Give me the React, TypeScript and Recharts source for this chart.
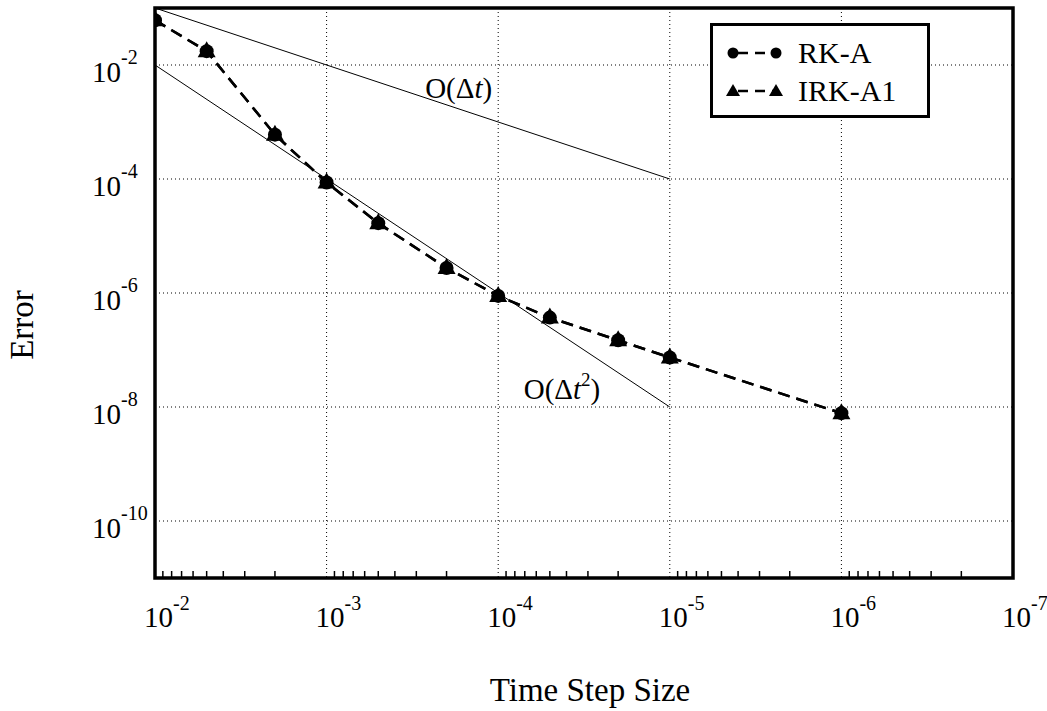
import {
  ComposedChart,
  Line,
  XAxis,
  YAxis,
  CartesianGrid,
  ReferenceArea,
  ReferenceDot,
} from "recharts";

// step sizes (x) and errors
const stepSizes = [1e-2, 5e-3, 2e-3, 1e-3, 5e-4, 2e-4, 1e-4, 5e-5, 2e-5, 1e-5, 1e-6];
const rkAErrors = [6.1e-2, 1.75e-2, 6e-4, 8.7e-5, 1.68e-5, 2.75e-6, 8.9e-7, 3.7e-7, 1.48e-7, 7.4e-8, 7.8e-9];
const irkA1Errors = [6.1e-2, 1.75e-2, 6e-4, 8.7e-5, 1.68e-5, 2.75e-6, 8.9e-7, 3.7e-7, 1.48e-7, 7.4e-8, 7.8e-9];

// slope guides
const guideSteps = [1e-2, 1e-5];
const orderOneErrors = [1e-1, 1e-4];
const orderTwoErrors = [1e-2, 1e-8];

// axes
const xDecades = [1e-2, 1e-3, 1e-4, 1e-5, 1e-6, 1e-7];
const xDecadeLabels = ["-2", "-3", "-4", "-5", "-6", "-7"];
const minorMultipliers = [2, 3, 4, 5, 6, 7, 8, 9];
const yDecades = [1e-2, 1e-4, 1e-6, 1e-8, 1e-10];
const yDecadeLabels = ["-2", "-4", "-6", "-8", "-10"];

const FONT = '"Liberation Serif", "DejaVu Serif", serif';
const DASH = "12 7";

const rkAData = stepSizes.map((dt, i) => ({ dt, err: rkAErrors[i] }));
const irkA1Data = stepSizes.map((dt, i) => ({ dt, err: irkA1Errors[i] }));
const orderOneData = guideSteps.map((dt, i) => ({ dt, err: orderOneErrors[i] }));
const orderTwoData = guideSteps.map((dt, i) => ({ dt, err: orderTwoErrors[i] }));

const minorTicks = xDecades
  .slice(1)
  .flatMap((d) => minorMultipliers.map((m) => m * d));
const xTicks = [...xDecades, ...minorTicks];

function XTick(props: any) {
  const { x, y, payload } = props;
  const idx = xDecades.findIndex((d) => Math.abs(d - payload.value) / d < 1e-6);
  if (idx < 0) {
    return <line x1={x} x2={x} y1={y} y2={y - 7} stroke="#000" strokeWidth={1.5} />;
  }
  return (
    <text x={x - 11} y={y + 49} fontSize={29} fontFamily={FONT} fill="#000">
      <tspan>10</tspan>
      <tspan dy={-17} fontSize={20}>
        {xDecadeLabels[idx]}
      </tspan>
    </text>
  );
}

function YTick(props: any) {
  const { x, y, payload } = props;
  const idx = yDecades.findIndex((d) => Math.abs(d - payload.value) / d < 1e-6);
  if (idx < 0) return null;
  return (
    <text x={x - 63} y={y + 17} fontSize={29} fontFamily={FONT} fill="#000">
      <tspan>10</tspan>
      <tspan dy={-18} fontSize={20}>
        {yDecadeLabels[idx]}
      </tspan>
    </text>
  );
}

function Triangle(props: any) {
  const { cx, cy } = props;
  if (cx == null || cy == null) return null;
  return (
    <polygon
      points={`${cx},${cy - 10} ${cx - 9},${cy + 6} ${cx + 9},${cy + 6}`}
      fill="#000"
    />
  );
}

function LegendBox() {
  return (
    <div
      style={{
        position: "absolute",
        left: 710,
        top: 23,
        width: 220,
        height: 95,
        border: "3px solid #000",
        boxSizing: "border-box",
        background: "#fff",
        fontFamily: FONT,
        fontSize: 30,
      }}
    >
      {[
        { name: "RK-A", mark: "circle" },
        { name: "IRK-A1", mark: "triangle" },
      ].map((row, i) => (
        <div
          key={row.name}
          style={{ position: "absolute", left: 0, top: i === 0 ? 11 : 49, height: 32, display: "flex", alignItems: "center" }}
        >
          <svg width={80} height={32}>
            <line x1={20} x2={63} y1={16} y2={16} stroke="#000" strokeWidth={2.5} strokeDasharray="10 7" strokeDashoffset={-5} />
            {row.mark === "circle" ? (
              <>
                <circle cx={20} cy={16} r={5.5} fill="#000" />
                <circle cx={63} cy={16} r={5.5} fill="#000" />
              </>
            ) : (
              <>
                <polygon points="20,9 13,21 27,21" fill="#000" />
                <polygon points="63,9 56,21 70,21" fill="#000" />
              </>
            )}
          </svg>
          <span style={{ marginLeft: 5 }}>{row.name}</span>
        </div>
      ))}
    </div>
  );
}

export default function App() {
  return (
    <div style={{ position: "absolute", left: 0, top: 0, width: 1047, height: 711, background: "#fff" }}>
      <ComposedChart
        width={1047}
        height={711}
        margin={{ top: 8, right: 34, left: 0, bottom: 0 }}
      >
        <CartesianGrid
          stroke="#000"
          strokeWidth={1}
          strokeDasharray="1 3"
          verticalValues={xDecades}
          horizontalValues={yDecades}
        />
        <XAxis
          dataKey="dt"
          type="number"
          scale="log"
          domain={[1e-7, 1e-2]}
          reversed
          allowDataOverflow
          ticks={xTicks}
          interval={0}
          tick={<XTick />}
          tickSize={0}
          tickMargin={0}
          tickLine={false}
          axisLine={false}
          height={133}
          label={{
            content: () => (
              <text x={590} y={701} textAnchor="middle" fontSize={33} fontFamily={FONT} fill="#000">
                Time Step Size
              </text>
            ),
          }}
        />
        <YAxis
          dataKey="err"
          type="number"
          scale="log"
          domain={[1e-11, 1e-1]}
          allowDataOverflow
          ticks={yDecades}
          interval={0}
          tick={<YTick />}
          tickSize={0}
          tickMargin={0}
          tickLine={false}
          axisLine={false}
          width={155}
          label={{
            content: () => (
              <text
                x={33}
                y={325}
                textAnchor="middle"
                fontSize={33}
                fontFamily={FONT}
                fill="#000"
                transform="rotate(-90, 33, 325)"
              >
                Error
              </text>
            ),
          }}
        />
        <Line
          data={orderOneData}
          dataKey="err"
          stroke="#000"
          strokeWidth={1}
          dot={false}
          isAnimationActive={false}
        />
        <Line
          data={orderTwoData}
          dataKey="err"
          stroke="#000"
          strokeWidth={1}
          dot={false}
          isAnimationActive={false}
        />
        <Line
          data={rkAData}
          dataKey="err"
          name="RK-A"
          stroke="#000"
          strokeWidth={2.5}
          strokeDasharray={DASH}
          dot={{ r: 7, fill: "#000", stroke: "#000", strokeWidth: 0 }}
          isAnimationActive={false}
        />
        <Line
          data={irkA1Data}
          dataKey="err"
          name="IRK-A1"
          stroke="#000"
          strokeWidth={2.5}
          strokeDasharray={DASH}
          dot={<Triangle />}
          isAnimationActive={false}
        />
        <ReferenceDot
          x={1.7e-4}
          y={4e-3}
          r={0}
          shape={(p: any) => (
            <text x={p.cx} y={p.cy} textAnchor="middle" dominantBaseline="central" fontSize={29} fontFamily={FONT} fill="#000">
              <tspan>O(Δ</tspan>
              <tspan fontStyle="italic">t</tspan>
              <tspan>)</tspan>
            </text>
          )}
        />
        <ReferenceDot
          x={4.25e-5}
          y={2.04e-8}
          r={0}
          shape={(p: any) => (
            <text x={p.cx} y={p.cy} textAnchor="middle" dominantBaseline="central" fontSize={29} fontFamily={FONT} fill="#000">
              <tspan>O(Δ</tspan>
              <tspan fontStyle="italic">t</tspan>
              <tspan dy={-10} fontSize={19}>2</tspan>
              <tspan dy={10}>)</tspan>
            </text>
          )}
        />
        <ReferenceArea
          x1={1e-2}
          x2={1e-7}
          y1={1e-11}
          y2={1e-1}
          fill="none"
          stroke="#000"
          strokeWidth={3.5}
          ifOverflow="visible"
        />
      </ComposedChart>
      <LegendBox />
    </div>
  );
}
